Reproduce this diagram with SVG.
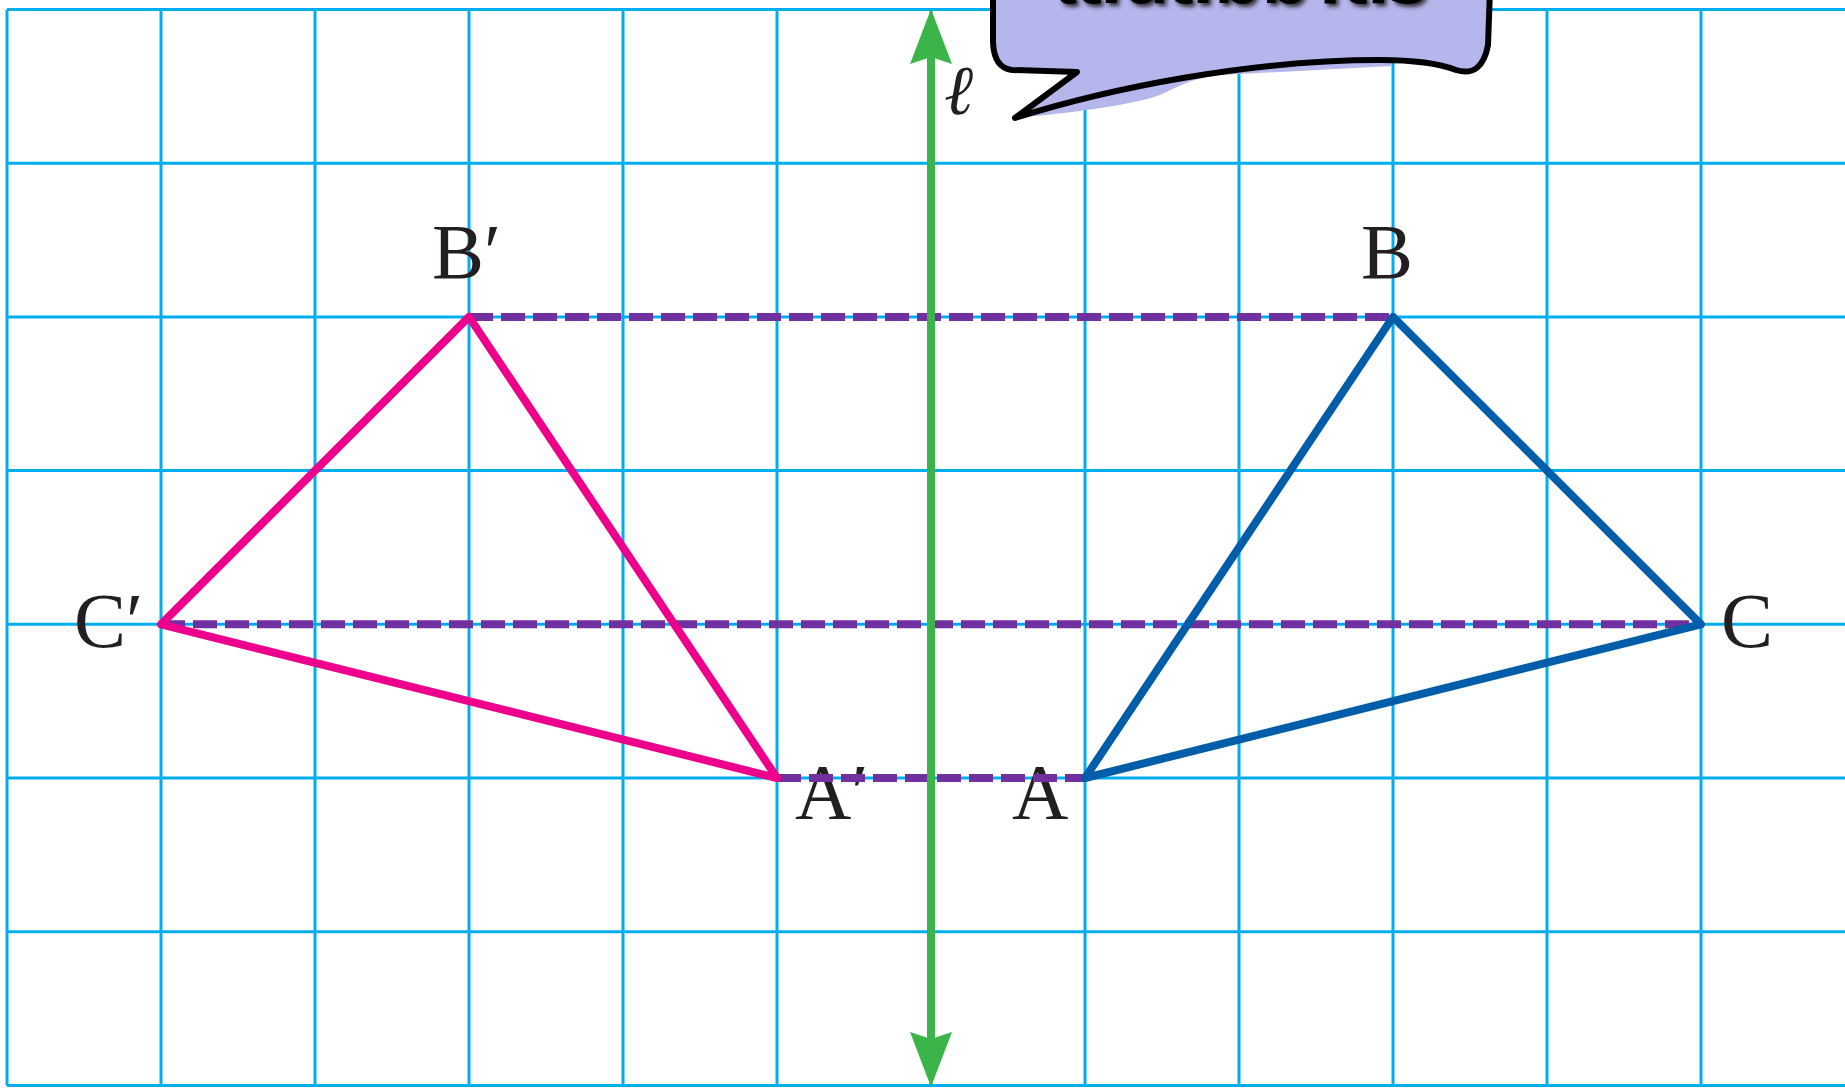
<svg xmlns="http://www.w3.org/2000/svg" width="1845" height="1088" viewBox="0 0 1845 1088">
  <style>
    .grid { stroke: #00AEEF; stroke-width: 3; fill: none; }
    .dash { stroke: #7030A0; stroke-width: 8; stroke-dasharray: 24 8; fill: none; }
    .tri1 { stroke: #EC008C; stroke-width: 8; fill: none; stroke-linejoin: round; stroke-linecap: round; }
    .tri2 { stroke: #005DAA; stroke-width: 8; fill: none; stroke-linejoin: round; stroke-linecap: round; }
    .lbl { font-family: "Liberation Serif", "Times New Roman", serif; font-size: 78px; fill: #231F20; }
    .ell { font-family: "DejaVu Serif", serif; font-style: italic; font-size: 70px; fill: #231F20; }
    .bub { font-family: "Noto Sans Thai", "Noto Sans", sans-serif; font-weight: bold; font-size: 72px; }
    .head { fill: #3BB44A; }
  </style>
  <defs>
    <filter id="tsh" x="-10%" y="-50%" width="120%" height="200%">
      <feGaussianBlur stdDeviation="2"/>
    </filter>
  </defs>
  <rect width="1845" height="1088" fill="#FFFFFF"/>

  <g id="grid" class="grid">
    <line x1="7" y1="9.5" x2="1845" y2="9.5"/>
    <line x1="7" y1="163.2" x2="1845" y2="163.2"/>
    <line x1="7" y1="316.9" x2="1845" y2="316.9"/>
    <line x1="7" y1="470.6" x2="1845" y2="470.6"/>
    <line x1="7" y1="624.3" x2="1845" y2="624.3"/>
    <line x1="7" y1="778" x2="1845" y2="778"/>
    <line x1="7" y1="931.7" x2="1845" y2="931.7"/>
    <line x1="7" y1="1085.4" x2="1845" y2="1085.4"/>
    <line x1="7" y1="9.5" x2="7" y2="1085.4"/>
    <line x1="161" y1="9.5" x2="161" y2="1085.4"/>
    <line x1="315" y1="9.5" x2="315" y2="1085.4"/>
    <line x1="469" y1="9.5" x2="469" y2="1085.4"/>
    <line x1="623" y1="9.5" x2="623" y2="1085.4"/>
    <line x1="777" y1="9.5" x2="777" y2="1085.4"/>
    <line x1="931" y1="9.5" x2="931" y2="1085.4"/>
    <line x1="1085" y1="9.5" x2="1085" y2="1085.4"/>
    <line x1="1239" y1="9.5" x2="1239" y2="1085.4"/>
    <line x1="1393" y1="9.5" x2="1393" y2="1085.4"/>
    <line x1="1547" y1="9.5" x2="1547" y2="1085.4"/>
    <line x1="1701" y1="9.5" x2="1701" y2="1085.4"/>
  </g>

  <g id="labels">
    <g id="node-Bp"><text class="lbl" x="432" y="278">B′</text></g>
    <g id="node-B"><text class="lbl" x="1361" y="278">B</text></g>
    <g id="node-Cp"><text class="lbl" x="74" y="647">C′</text></g>
    <g id="node-C"><text class="lbl" x="1721" y="647">C</text></g>
    <g id="node-Ap"><text class="lbl" x="795" y="818">A′</text></g>
    <g id="node-A"><text class="lbl" x="1012" y="818">A</text></g>
  </g>

  <g id="connectors">
    <line class="dash" x1="469" y1="316.9" x2="1393" y2="316.9"/>
    <line class="dash" x1="161" y1="624.3" x2="1701" y2="624.3"/>
    <line class="dash" x1="777" y1="778" x2="1085" y2="778"/>
    <polygon class="tri1" points="469,316.9 161,624.3 777,778"/>
    <polygon class="tri2" points="1393,316.9 1701,624.3 1085,778"/>
    <g id="axis">
      <line x1="931" y1="50" x2="931" y2="1045" stroke="#3BB44A" stroke-width="8"/>
      <polygon class="head" points="931,9 952,64 931,57 910,64"/>
      <polygon class="head" points="931,1087 952,1032 931,1039 910,1032"/>
    </g>
  </g>

  <g id="node-l"><text class="ell" x="944" y="114">ℓ</text></g>

  <g id="callout">
    <path d="M1014,118 C1060,114 1130,106 1160,95 C1180,86 1192,78 1220,75 L1392,66 L1392,50 L1100,70 Z" fill="#B4B6EC"/>
    <path d="M993,-10 L993,42 Q994,68 1012,70 L1077,72 L1015,118 C1110,88 1250,60 1380,60 C1420,60 1443,65 1456,70 Q1482,78 1488,45 L1490,-10" fill="#B4B6EC" stroke="#000000" stroke-width="6" stroke-linejoin="round" stroke-linecap="round"/>
    <text class="bub" x="1243" y="6" text-anchor="middle" textLength="374" lengthAdjust="spacingAndGlyphs" fill="#333" filter="url(#tsh)">เส้นสมมาตร</text>
    <text class="bub" x="1240" y="3" text-anchor="middle" textLength="374" lengthAdjust="spacingAndGlyphs" fill="#000">เส้นสมมาตร</text>
  </g>
</svg>
